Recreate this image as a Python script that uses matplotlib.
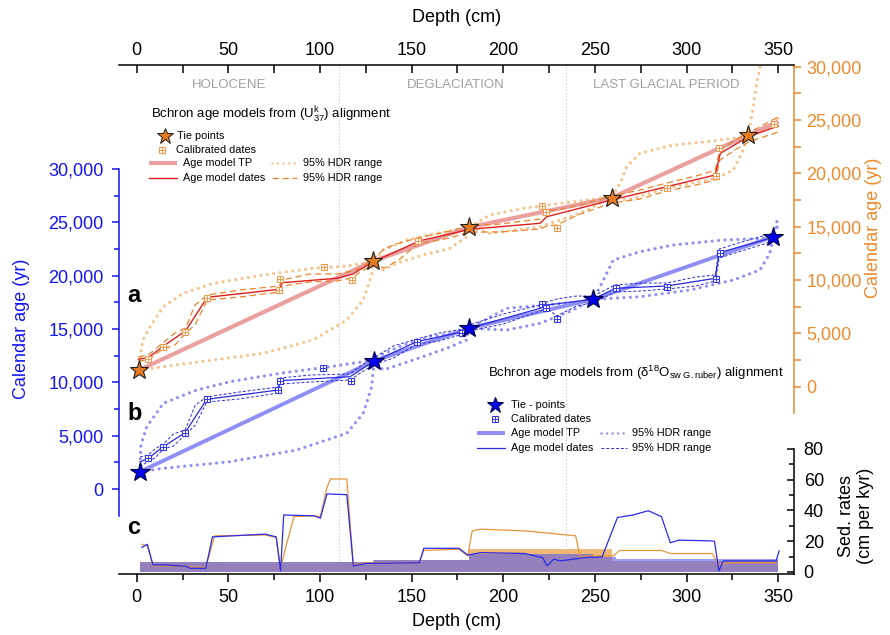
import numpy as np
import matplotlib
matplotlib.use("Agg")
import matplotlib.pyplot as plt
from matplotlib.ticker import FuncFormatter

plt.rcParams['font.family'] = ['Liberation Sans', 'DejaVu Sans']
plt.rcParams['mathtext.fontset'] = 'custom'
plt.rcParams['mathtext.rm'] = 'Liberation Sans'
plt.rcParams['mathtext.it'] = 'Liberation Sans:italic'
plt.rcParams['mathtext.bf'] = 'Liberation Sans:bold'

# ---------------- data ----------------
periods = ['HOLOCENE', 'DEGLACIATION', 'LAST GLACIAL PERIOD']
period_centers = [50.5, 174.0, 289.0]
period_bounds = [110.5, 234.0]

depth_ticks = [0, 50, 100, 150, 200, 250, 300, 350]
age_ticks = [0, 5000, 10000, 15000, 20000, 25000, 30000]
sed_ticks = [0, 20, 40, 60, 80]

# (a) U37k alignment  -> right (orange) age axis
u_tie_depth = [1.4, 129.1, 181.4, 259.1, 333.7]
u_tie_age = [1566, 11784, 14953, 17719, 23597]
u_tp_depth = [1.4, 129.1, 181.4, 259.1, 333.7, 350.0]
u_tp_age = [1566, 11784, 14953, 17719, 23597, 24844]
u_cal_depth = [6.3, 14.1, 26.1, 38.4, 77.6, 78.2, 102.0, 117.5, 153.2,
               221.1, 223.3, 229.1, 289.1, 316.0, 317.8, 347.6]
u_cal_age = [2616, 3750, 5156, 8316, 9066, 10097, 11194, 9975, 13659,
             16941, 16378, 14925, 18656, 19753, 22378, 24656]
u_mod_depth = [0.9, 6.3, 14.2, 26.7, 38.5, 77.8, 79.4, 109.1, 117.6, 129.1,
               154.6, 170.9, 181.4, 220.0, 223.7, 259.1, 315.6, 318.4, 333.7, 350.0]
u_mod_age = [2569, 2719, 3750, 5250, 8381, 9131, 9750, 10163, 10538, 11719,
             13688, 14316, 14756, 15319, 15938, 17503, 19847, 21881, 23438, 24441]
u_hdrd_depth = [0.9, 6.3, 14.2, 20.9, 26.7, 31.8, 38.5, 56.4, 77.8, 79.4, 94.5,
                109.1, 117.6, 121.8, 129.1, 135.5, 143.6, 153.2, 170.9, 181.4,
                198.2, 220.1, 223.7, 229.1, 241.9, 259.1, 274.6, 289.1, 307.3,
                315.6, 318.2, 326.4, 333.7, 350.0]
u_hdrd_hi = [2784, 2972, 4097, 5034, 5503, 7659, 8597, 9066, 9441, 10003, 10566,
             10566, 10847, 11128, 11972, 13003, 13472, 13941, 14597, 15066,
             15253, 15722, 16472, 16566, 17034, 17878, 18441, 19097, 19847,
             20316, 22191, 23128, 23784, 25284]
u_hdrd_lo = [2409, 2503, 3534, 3909, 5034, 5784, 8128, 8409, 8878, 9441, 9816,
             9909, 10191, 10753, 11409, 11128, 11972, 13378, 13941, 14503,
             14503, 14784, 15066, 15159, 16191, 17222, 17597, 18347, 19003,
             19378, 21253, 22191, 22941, 23878]
u_hdrtp_hi_depth = [1.4, 1.8, 3.4, 7.3, 14.5, 25.4, 41.8, 69.1, 96.3, 114.6, 124.5,
                    129.1, 134.5, 147.3, 163.7, 178.2, 181.4, 192.7, 210.9, 238.2,
                    252.8, 259.1, 263.7, 267.3, 274.6, 292.7, 311.0, 325.5, 333.7,
                    336.4, 338.2, 340.0, 341.1]
u_hdrtp_hi_age = [1566, 2813, 4378, 5625, 7500, 8756, 9694, 10472, 11100, 11316, 11597,
                  11784, 12816, 13753, 14381, 14850, 14953, 16097, 16725, 17344,
                  17663, 17719, 19069, 20625, 21881, 22659, 22969, 23288, 23597,
                  26250, 28444, 29850, 31097]
u_hdrtp_lo_depth = [1.4, 14.5, 41.8, 69.1, 96.3, 114.6, 123.6, 128.2, 129.1, 134.5,
                    141.8, 156.4, 170.9, 180.0, 181.4, 192.7, 220.1, 241.9, 256.4,
                    259.1, 267.3, 292.7, 316.4, 325.5, 330.1, 332.8, 333.7, 340.0,
                    345.4, 349.9]
u_hdrtp_lo_age = [1566, 1875, 2503, 3131, 4378, 6253, 8128, 10472, 11784, 10941,
                  11569, 12347, 12975, 14063, 14953, 14381, 15000, 16256, 17503,
                  17719, 17503, 18750, 19538, 20316, 21881, 23128, 23597, 23878,
                  24441, 25191]

# (b) d18Osw alignment -> left (blue) age axis
o_tie_depth = [1.8, 129.5, 181.3, 249.1, 347.3]
o_tie_age = [1622, 12000, 15066, 17784, 23653]
o_cal_depth = [6.3, 14.5, 26.4, 38.2, 77.3, 78.2, 101.5, 116.9, 152.8, 177.3,
               221.0, 223.3, 229.1, 261.3, 289.1, 316.0, 318.2]
o_cal_age = [2878, 3966, 5278, 8466, 9281, 10153, 11316, 10153, 13809, 14653,
             17344, 16941, 15938, 18872, 18966, 19688, 22097]
o_mod_depth = [1.8, 6.3, 14.5, 26.4, 38.2, 77.3, 78.2, 116.4, 129.1, 152.8, 178.2,
               181.4, 220.1, 223.7, 249.1, 261.0, 289.1, 315.6, 317.8, 347.3]
o_mod_age = [2531, 2878, 3966, 5278, 8409, 9281, 10153, 10528, 11934, 13809, 14747,
             15066, 16941, 17250, 17784, 18816, 19031, 19753, 22153, 23597]
o_hdrd_depth = [1.8, 6.3, 10.0, 14.5, 20.0, 26.4, 32.0, 38.2, 56.0, 77.3, 78.2, 95.0,
                116.4, 122.0, 129.1, 140.0, 152.8, 165.0, 178.2, 181.4, 200.0, 220.1,
                223.7, 229.1, 240.0, 249.1, 261.0, 275.0, 289.1, 305.0, 315.6, 317.8,
                330.0, 347.3]
o_hdrd_hi = [3000, 3188, 3750, 4219, 5156, 5531, 7875, 8625, 9094, 9563, 10406, 10688,
             10781, 11531, 12281, 13406, 14063, 14625, 15000, 15375, 16406, 17250,
             17531, 17813, 18094, 18094, 19125, 19313, 19313, 19875, 20063, 22500,
             23156, 24000]
o_hdrd_lo = [2063, 2625, 2906, 3750, 4031, 5063, 6000, 8156, 8438, 9000, 9844, 10031,
             10219, 10875, 11625, 12281, 13594, 13875, 14531, 14813, 15469, 16688,
             16969, 16219, 17156, 17438, 18469, 18563, 18750, 19031, 19500, 21656,
             22313, 23250]
o_hdrtp_hi_depth = [1.8, 2.3, 5.5, 14.5, 32.7, 50.9, 78.2, 105.5, 123.6, 129.5, 130.9,
                    145.4, 160.0, 178.2, 181.3, 201.9, 229.1, 241.9, 249.1, 252.8,
                    260.0, 274.6, 292.7, 320.0, 345.4, 347.3, 349.9]
o_hdrtp_hi_age = [1622, 4125, 5841, 8034, 9281, 10059, 10847, 11466, 11934, 12000,
                  12403, 13500, 14278, 14747, 15066, 16941, 17344, 17559, 17784,
                  18966, 21469, 22247, 22875, 23344, 23503, 23653, 25528]
o_hdrtp_lo_depth = [1.8, 14.5, 50.9, 87.3, 114.6, 123.6, 128.2, 129.5, 134.5, 150.9,
                    169.1, 180.0, 181.3, 201.9, 220.1, 238.2, 249.1, 274.6, 301.8,
                    325.5, 340.0, 345.4, 347.3, 349.9]
o_hdrtp_lo_age = [1622, 1941, 2559, 3656, 5222, 7097, 9591, 12000, 11156, 12094,
                  13191, 13969, 15066, 14906, 15534, 16781, 17784, 18028, 18656,
                  19594, 20531, 22097, 23653, 24750]

# (c) sedimentation rates (cm per kyr)
sed_u_depth = [2.9, 5.8, 8.9, 14.9, 26.9, 37.7, 42.5, 70.1, 76.1, 78.5, 82.2, 85.8,
               96.6, 100.2, 103.8, 105.7, 114.6, 118.2, 125.4, 154.2, 156.6, 175.8,
               180.6, 183.0, 187.8, 211.9, 239.5, 241.9, 245.5, 259.9, 263.5, 286.3,
               291.1, 314.0, 317.6, 322.4, 348.8]
sed_u_rate = [18, 17, 4, 4, 3.5, 3, 23.5, 24, 22.4, 2.8, 20, 36, 36.5, 36, 55, 60.4,
              60.4, 4.6, 6, 6, 14, 14.8, 10.4, 26.7, 27.8, 26.7, 23.5, 9.3, 10.4,
              10.4, 14, 14, 12, 12, 4.6, 6, 6]
sed_o_depth = [2.9, 5.8, 8.9, 14.9, 26.9, 29.3, 37.7, 41.3, 70.1, 76.1, 78.5, 80.2,
               96.6, 100.2, 103.8, 114.6, 118.2, 125.4, 154.2, 156.6, 175.8, 180.6,
               187.8, 211.9, 221.5, 223.9, 227.5, 231.1, 245.5, 253.9, 262.3, 270.7,
               279.1, 286.3, 291.1, 295.9, 312.8, 315.2, 317.6, 320.0, 348.8, 350.5]
sed_o_rate = [16, 18, 4.6, 4.6, 3.7, 2.4, 2.4, 22.8, 24.6, 22.8, 0.7, 37, 36.5, 35,
              50.7, 50.2, 4, 5.6, 6, 15.4, 15.4, 11, 12.6, 12, 9.3, 4, 8.3, 7.2, 9.5,
              9.8, 35.4, 37, 39.8, 35.9, 19, 20.7, 20.2, 20, 0.7, 7.2, 7.2, 13.7]
sed_u_fill_edges = [2.0, 129.1, 181.4, 259.1, 350.0]
sed_u_fill_rate = [6.3, 7.6, 14.8, 7.2]
sed_o_fill_edges = [2.0, 129.5, 181.3, 249.1, 261.5, 350.0]
sed_o_fill_rate = [6.3, 7.6, 11.5, 10.0, 8.7]

# ---------------- style ----------------
BLUE = '#1414f5'
ORANGE = '#ec8a2c'
RED = '#e0201c'
PINK = '#eba0a0'
LORANGE = '#f5c48c'
DORANGE = '#e8842c'
LBLUE = '#8e8ef4'
DBLUE = '#2a2ae0'
GRAY = '#a0a0a0'
SQ_OR = '#eb9b52'
SQ_BL = '#3838e8'

W, H = 890, 635
L, R, T, B = 119, 794, 65, 574
X0, KX = 136.7, 1.833          # depth 0 pixel, px per cm
KA = 53.33 / 5000              # px per year
BLUE0, OR0 = 489.0, 386.7      # pixel row of age 0 on the two age axes
SED0, KS = 572.0, 1.54         # pixel row of sed 0, px per cm/kyr

fig = plt.figure(figsize=(W / 100, H / 100), dpi=100)
ax = fig.add_axes([L / W, 1 - B / H, (R - L) / W, (B - T) / H])
ax.set_xlim((L - X0) / KX, (R - X0) / KX)
ax.set_ylim((BLUE0 - B) / KA, (BLUE0 - T) / KA)
axo = ax.twinx()
axo.set_ylim((OR0 - B) / KA, (OR0 - T) / KA)
axs = ax.twinx()
axs.set_ylim((SED0 - B) / KS, (SED0 - T) / KS)
axt = ax.twiny()
axt.set_xlim(ax.get_xlim())

for a in (ax, axo, axs, axt):
    for s in a.spines.values():
        s.set_visible(False)
        s.set_linewidth(1.1)

ax.spines['left'].set_visible(True)
ax.spines['left'].set_color(BLUE)
ax.spines['left'].set_bounds(-2500, 30000)
ax.spines['bottom'].set_visible(True)
axt.spines['top'].set_visible(True)
axo.spines['right'].set_visible(True)
axo.spines['right'].set_color(ORANGE)
axo.spines['right'].set_bounds(-2500, axo.get_ylim()[1])
axs.spines['right'].set_visible(True)
axs.spines['right'].set_bounds(axs.get_ylim()[0], 80)

fmt = FuncFormatter(lambda v, p: f'{int(round(v)):,}')
ax.set_yticks(age_ticks)
ax.set_yticks(np.arange(2500, 30000, 5000), minor=True)
ax.yaxis.set_major_formatter(fmt)
ax.tick_params(axis='y', which='major', length=5, width=1.1, color=BLUE,
               labelcolor=BLUE, labelsize=13, pad=6)
ax.tick_params(axis='y', which='minor', length=3.5, width=1.1, color=BLUE)
axo.set_yticks(age_ticks)
axo.set_yticks(np.arange(2500, 30000, 5000), minor=True)
axo.yaxis.set_major_formatter(fmt)
axo.tick_params(axis='y', which='both', length=5, width=1.1, color=ORANGE,
                labelcolor=ORANGE, labelsize=13, pad=4)
axs.set_yticks(sed_ticks)
axs.set_yticks([10, 30, 50, 70], minor=True)
axs.tick_params(axis='y', which='major', direction='in', length=5, width=1.1,
                labelsize=13, pad=7)
axs.tick_params(axis='y', which='minor', direction='in', length=3.5, width=1.1)

for a in (ax, axt):
    a.set_xticks(depth_ticks)
    a.set_xticks(np.arange(25, 350, 50), minor=True)
ax.tick_params(axis='x', which='major', length=5.5, width=1.1, labelsize=13, pad=5)
ax.tick_params(axis='x', which='minor', length=4, width=1.1)
axt.tick_params(axis='x', which='both', direction='in', length=5.5, width=1.1,
                labelsize=13, pad=4)

# period separators and names
for b in period_bounds:
    ax.axvline(b, color='#d6d6d6', lw=0.8, ls=(0, (1.5, 1.5)), zorder=0)
for name, c in zip(periods, period_centers):
    ax.text(c, (BLUE0 - 84.5) / KA, name, color=GRAY, fontsize=9.5,
            ha='center', va='center')

dot = dict(ls=(0, (0.01, 2.0)), dash_capstyle='round', lw=2.3)


def cal_marks(a, x, y, color, ms=4.6, z=6):
    a.plot(x, y, ls='none', marker='s', ms=ms, mfc='white', mec=color,
           mew=0.8, zorder=z)
    a.plot(x, y, ls='none', marker='+', ms=ms, mec=color, mew=0.7, zorder=z)


# ---- panel b (blue, left axis) ----
ax.plot(o_hdrtp_hi_depth, o_hdrtp_hi_age, color=LBLUE, zorder=2, **dot)
ax.plot(o_hdrtp_lo_depth, o_hdrtp_lo_age, color=LBLUE, zorder=2, **dot)
ax.plot(o_tie_depth, o_tie_age, color=LBLUE, lw=2.8, solid_capstyle='butt', zorder=3)
ax.plot(o_hdrd_depth, o_hdrd_hi, color=DBLUE, lw=0.7, ls=(0, (3, 2)), zorder=4)
ax.plot(o_hdrd_depth, o_hdrd_lo, color=DBLUE, lw=0.7, ls=(0, (3, 2)), zorder=4)
ax.plot(o_mod_depth, o_mod_age, color=DBLUE, lw=0.9, zorder=5)
cal_marks(ax, o_cal_depth, o_cal_age, SQ_BL)
ax.plot(o_tie_depth, o_tie_age, ls='none', marker='*', ms=15, mfc='#0000f0',
        mec='#000040', mew=0.8, zorder=7)

# ---- panel a (orange, right axis) ----
axo.plot(u_hdrtp_hi_depth, u_hdrtp_hi_age, color=LORANGE, zorder=2, **dot)
axo.plot(u_hdrtp_lo_depth, u_hdrtp_lo_age, color=LORANGE, zorder=2, **dot)
axo.plot(u_tp_depth, u_tp_age, color=PINK, lw=3.0, solid_capstyle='butt', zorder=3)
axo.plot(u_hdrd_depth, u_hdrd_hi, color=DORANGE, lw=0.9, ls=(0, (5, 3)), zorder=4)
axo.plot(u_hdrd_depth, u_hdrd_lo, color=DORANGE, lw=0.9, ls=(0, (5, 3)), zorder=4)
axo.plot(u_mod_depth, u_mod_age, color=RED, lw=1.0, zorder=5)
cal_marks(axo, u_cal_depth, u_cal_age, SQ_OR)
axo.plot(u_tie_depth, u_tie_age, ls='none', marker='*', ms=14, mfc='#e67a20',
         mec='#202020', mew=0.8, zorder=7)

# ---- panel c (sed rates) ----
axs.fill_between(sed_u_fill_edges, sed_u_fill_rate + sed_u_fill_rate[-1:], 0,
                 step='post', color='#e9a24a', alpha=0.75, lw=0, zorder=1)
axs.fill_between(sed_o_fill_edges, sed_o_fill_rate + sed_o_fill_rate[-1:], 0,
                 step='post', color='#5a5aee', alpha=0.6, lw=0, zorder=2)
axs.plot(sed_u_depth, sed_u_rate, color='#e8963c', lw=0.9, zorder=3)
axs.plot(sed_o_depth, sed_o_rate, color='#2a2ae8', lw=0.9, zorder=4)

# ---- texts ----
def ftext(x, y, s, **kw):
    fig.text(x / W, 1 - y / H, s, **kw)

ftext(457, 18, 'Depth (cm)', fontsize=13, ha='center', va='center')
ftext(457, 621, 'Depth (cm)', fontsize=13, ha='center', va='center')
ftext(21.7, 329, 'Calendar age (yr)', fontsize=13, color=BLUE, rotation=90,
      ha='center', va='center')
ftext(874, 228, 'Calendar age (yr)', fontsize=13, color=ORANGE, rotation=90,
      ha='center', va='center')
ftext(856, 516, 'Sed. rates\n(cm per kyr)', fontsize=13, rotation=90,
      ha='center', va='center', linespacing=1.15)
ftext(134, 296, 'a', fontsize=17, fontweight='bold', ha='center', va='center')
ftext(135, 413, 'b', fontsize=17, fontweight='bold', ha='center', va='center')
ftext(134, 528, 'c', fontsize=17, fontweight='bold', ha='center', va='center')

# ---- legends (overlay in pixel coordinates) ----
lg = fig.add_axes([0, 0, 1, 1])
lg.set_xlim(0, W)
lg.set_ylim(H, 0)
lg.axis('off')

LF = 7.8
lg.text(150.7, 115, r'Bchron age models from (U$^{\mathregular{k}}_{\mathregular{37}}$) alignment',
        fontsize=9.5, va='center')
lg.plot([165], [136], marker='*', ms=12, mfc='#e67a20', mec='#202020', mew=0.7)
lg.text(176.7, 136, 'Tie points', fontsize=LF, va='center')
cal_marks(lg, [162.3], [150], SQ_OR, ms=4.6)
lg.text(175.7, 150, 'Calibrated dates', fontsize=LF, va='center')
lg.plot([149, 177], [163.3, 163.3], color=PINK, lw=3.0, solid_capstyle='butt')
lg.text(183.3, 163.3, 'Age model TP', fontsize=LF, va='center')
lg.plot([149, 177], [178.3, 178.3], color=RED, lw=1.0)
lg.text(183.3, 178.3, 'Age model dates', fontsize=LF, va='center')
lg.plot([272, 295], [163.3, 163.3], color=LORANGE, ls=(0, (0.01, 2.2)),
        dash_capstyle='round', lw=1.8)
lg.text(302.7, 163.3, '95% HDR range', fontsize=LF, va='center')
lg.plot([272, 297], [178.3, 178.3], color=DORANGE, lw=0.9, ls=(0, (5, 3)))
lg.text(302.7, 178.3, '95% HDR range', fontsize=LF, va='center')

lg.text(488.3, 373, r'Bchron age models from (δ$^{\mathregular{18}}$O$_{\mathregular{sw\ G.ruber}}$) alignment',
        fontsize=9.5, va='center')
lg.plot([495], [405], marker='*', ms=12, mfc='#0000f0', mec='#000040', mew=0.7)
lg.text(510.7, 405, 'Tie - points', fontsize=LF, va='center')
cal_marks(lg, [495], [419.3], SQ_BL, ms=4.6)
lg.text(510.7, 419.3, 'Calibrated dates', fontsize=LF, va='center')
lg.plot([477, 505], [433.3, 433.3], color=LBLUE, lw=2.8, solid_capstyle='butt')
lg.text(510.7, 433.3, 'Age model TP', fontsize=LF, va='center')
lg.plot([477, 505], [448.3, 448.3], color=DBLUE, lw=0.9)
lg.text(510.7, 448.3, 'Age model dates', fontsize=LF, va='center')
lg.plot([601, 625], [433.3, 433.3], color=LBLUE, ls=(0, (0.01, 2.2)),
        dash_capstyle='round', lw=1.8)
lg.text(631.7, 433.3, '95% HDR range', fontsize=LF, va='center')
lg.plot([601, 627], [448.3, 448.3], color=DBLUE, lw=0.7, ls=(0, (3, 2)))
lg.text(631.7, 448.3, '95% HDR range', fontsize=LF, va='center')

fig.savefig('out.png', dpi=100)
